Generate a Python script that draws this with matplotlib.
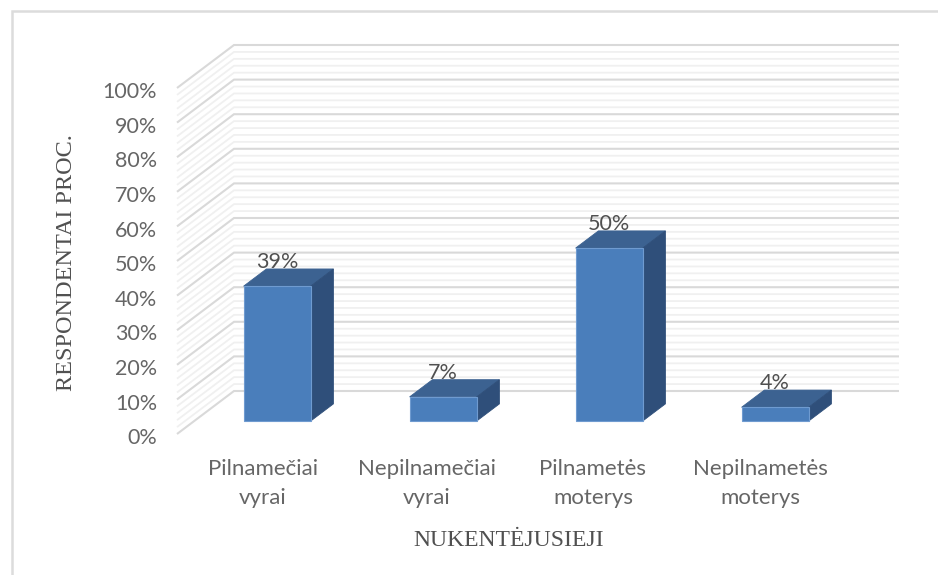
import matplotlib
matplotlib.use("Agg")
import matplotlib.pyplot as plt

categories = ["Pilnamečiai\nvyrai", "Nepilnamečiai\nvyrai", "Pilnametės\nmoterys", "Nepilnametės\nmoterys"]
values = [39, 7, 50, 4]
yticks = list(range(0, 101, 10))
minor_ticks = [v for v in range(0, 101, 2) if v % 10 != 0]

# oblique projection of the Excel 3d chart: depth 0 = front edge, 1 = back wall
DX = 57 / 166      # category units per depth
DY = 43 / 3.46     # percent per depth
FRONT = 0.3
BACK = 0.7
BAR_W = 67 / 166
label_shift = [0.018, 0.006, 0.006, 0.012]  # the wrapped labels sit a bit off centre


def proj(x, y, d):
    return x + DX * d, y + DY * d


fig = plt.figure(figsize=(9.38, 5.75), dpi=100)
W, H = 938, 575
# axes in pixels: x 0..4 = 177..841, y 0..100 = 434..88
ax = fig.add_axes([177 / W, (H - 434) / H, 664 / W, 346 / H])
ax.set_xlim(0, 4)
ax.set_ylim(0, 100)
ax.axis("off")

xmax_back = (899 - 234) / 166


def wall_line(v, color, lw, z):
    x0, y0 = proj(0, v, 0)
    x1, y1 = proj(0, v, 1)
    x2 = x1 + xmax_back
    ax.plot([x0, x1, x2], [y0, y1, y1], color=color, lw=lw, clip_on=False, zorder=z,
            solid_joinstyle="miter", solid_capstyle="butt")


for v in minor_ticks:
    wall_line(v, "#f0f0f0", 1.3, 1)
for v in yticks:
    wall_line(v, "#d9d9d9", 1.5, 2)

for i, v in enumerate(values):
    c = i + 0.5
    l, r = c - BAR_W / 2, c + BAR_W / 2
    front = [proj(l, 0, FRONT), proj(r, 0, FRONT), proj(r, v, FRONT), proj(l, v, FRONT)]
    top = [proj(l, v, FRONT), proj(r, v, FRONT), proj(r, v, BACK), proj(l, v, BACK)]
    side = [proj(r, 0, FRONT), proj(r, 0, BACK), proj(r, v, BACK), proj(r, v, FRONT)]
    ax.fill(*zip(*front), facecolor="#4a7ebb", edgecolor="#6f9bd0", lw=0.8, zorder=5, clip_on=False)
    ax.fill(*zip(*top), facecolor="#3c6291", edgecolor="#3c6291", lw=0.6, zorder=4, clip_on=False)
    ax.fill(*zip(*side), facecolor="#2f4f7a", edgecolor="#2f4f7a", lw=0.6, zorder=4, clip_on=False)
    tx = proj(c, v, FRONT)[0]
    ty = proj(c, v, BACK)[1]
    ax.text(tx, ty + 1.9, f"{v}%", ha="center", va="center", fontsize=15.5,
            family="Lato", color="#505050", zorder=6)

for v in yticks:
    ax.text(-0.12, v - 1.2, f"{v}%", ha="right", va="center", fontsize=15.5, family="Lato", color="#666666")

for i, c in enumerate(categories):
    ax.text(i + 0.5 + label_shift[i], -14.3, c, ha="center", va="center", fontsize=16, family="Lato",
            color="#666666", linespacing=1.6)

fig.text(509 / W, 1 - 540 / H, "NUKENTĖJUSIEJI", ha="center", va="center", fontsize=17,
         family="Liberation Serif", color="#505050")
fig.text(66 / W, 1 - 263 / H, "RESPONDENTAI PROC.", rotation=90, ha="center", va="center",
         fontsize=17.5, family="Liberation Serif", color="#505050")

# chart border
fig.add_artist(plt.Line2D([11.5 / W, 11.5 / W, 1], [0, 1 - 11 / H, 1 - 11 / H], color="#dcdcdc", lw=1.8,
                          solid_joinstyle="miter"))

fig.savefig("out.png", dpi=100)
